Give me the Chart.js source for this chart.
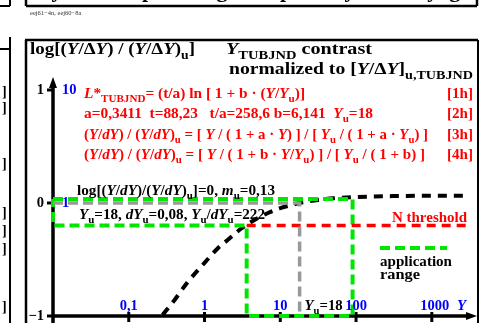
<!DOCTYPE html>
<html>
<head>
<meta charset="utf-8">
<script src="https://cdn.jsdelivr.net/npm/chart.js@4.4.0/dist/chart.umd.min.js"></script>
<style>
  html, body { margin: 0; padding: 0; background: #fff; }
  canvas { display: block; }
</style>
</head>
<body>
<canvas id="myChart" width="481" height="323"></canvas>
<script>
// values (x = Y, y = log of the ratio)
var xTicks = [0.1, 1, 10, 100, 1000];
var xTickLabels = ['0,1', '1', '10', '100', '1000'];
var yTicks = [1, 0, -1];
var yTickLabels = ['1', '0', '\u22121'];
var yRatioLabels = ['10', '1', ''];

var curveY = [0.28, 0.4, 0.6, 1, 1.5, 2, 3, 5, 7, 10, 18, 30, 50, 100, 300, 1000, 3100];
var curveV = [-0.99, -0.86, -0.70, -0.53, -0.40, -0.33, -0.23, -0.135, -0.086, -0.046, 0, 0.025, 0.041, 0.053, 0.061, 0.064, 0.065];

var thresholdY = [3.6, 2900];
var thresholdV = [-0.2, -0.2];

var grayY = [0.01, 18, 18];
var grayV = [0, 0, -1];

var rangeY = [0.01, 90, 90, 3.6, 3.6, 0.01, 0.01];
var rangeV = [0.035, 0.035, -1, -1, -0.2, -0.2, 0.035];

var Yu = 18;

function pts(xs, ys) {
  return xs.map(function (x, i) { return {x: x, y: ys[i]}; });
}

var SERIF = '"Liberation Serif", "DejaVu Serif", serif';

// draw a row of text pieces: [text, flags] with i = italic, s = subscript
function runs(ctx, x, y, parts, size, color, targetW) {
  var total = 0;
  parts.forEach(function (p) {
    var sz = p[1].indexOf('s') >= 0 ? size * 0.72 : size;
    ctx.font = (p[1].indexOf('i') >= 0 ? 'italic ' : '') + 'bold ' + sz + 'px ' + SERIF;
    total += ctx.measureText(p[0]).width;
  });
  var k = targetW ? targetW / total : 1;
  ctx.save();
  ctx.translate(x, y);
  ctx.scale(k, 1);
  ctx.fillStyle = color;
  ctx.textBaseline = 'alphabetic';
  ctx.textAlign = 'left';
  var cx = 0;
  parts.forEach(function (p) {
    var sub = p[1].indexOf('s') >= 0;
    var sz = sub ? size * 0.72 : size;
    ctx.font = (p[1].indexOf('i') >= 0 ? 'italic ' : '') + 'bold ' + sz + 'px ' + SERIF;
    ctx.fillText(p[0], cx, sub ? size * 0.28 : 0);
    cx += ctx.measureText(p[0]).width;
  });
  ctx.restore();
}

function line(ctx, x1, y1, x2, y2, w, col) {
  ctx.beginPath();
  ctx.moveTo(x1, y1);
  ctx.lineTo(x2, y2);
  ctx.lineWidth = w;
  ctx.strokeStyle = col;
  ctx.stroke();
}

var frame = {
  id: 'frame',
  beforeDatasetsDraw: function (chart) {
    var ctx = chart.ctx, xs = chart.scales.x, ys = chart.scales.y;
    var a = chart.chartArea;
    var x0 = xs.getPixelForValue(0.01), yb = ys.getPixelForValue(-1);
    ctx.save();
    ctx.setLineDash([]);
    // axes
    line(ctx, x0, 323, x0, a.top + 8, 3.5, '#000');
    ctx.beginPath();
    ctx.moveTo(x0, a.top); ctx.lineTo(x0 - 4, a.top + 11); ctx.lineTo(x0 + 4, a.top + 11);
    ctx.closePath(); ctx.fillStyle = '#000'; ctx.fill();
    line(ctx, x0, yb, a.right - 8, yb, 3.5, '#000');
    ctx.beginPath();
    ctx.moveTo(a.right, yb); ctx.lineTo(a.right - 11, yb - 4); ctx.lineTo(a.right - 11, yb + 4);
    ctx.closePath(); ctx.fill();
    xTicks.forEach(function (t) {
      var px = xs.getPixelForValue(t);
      line(ctx, px, yb - 4, px, yb + 6, 3, '#000');
    });
    yTicks.forEach(function (t) {
      var py = ys.getPixelForValue(t);
      line(ctx, x0 - 6, py, x0, py, 3, '#000');
    });
    ctx.restore();
  },
  afterDraw: function (chart) {
    var ctx = chart.ctx, xs = chart.scales.x, ys = chart.scales.y;
    var x0 = xs.getPixelForValue(0.01);
    ctx.save();
    ctx.setLineDash([]);

    // frames
    line(ctx, 26, 0, 26, 6, 2.5, '#000');
    line(ctx, 26, 6, 477, 6, 2.5, '#000');
    line(ctx, 477, 0, 477, 6, 2.5, '#000');
    line(ctx, 0, 6, 10, 6, 2, '#000');
    line(ctx, 10, 0, 10, 6, 2, '#000');
    line(ctx, 10, 37, 10, 323, 2, '#000');
    line(ctx, 0, 49, 10, 49, 2, '#000');
    line(ctx, 26, 40, 26, 323, 2.5, '#000');
    line(ctx, 25, 40, 478, 40, 2.5, '#000');
    line(ctx, 478, 40, 478, 323, 2, '#000');

    // cut-off heading above
    ctx.fillStyle = '#000';
    ctx.font = 'bold 22px ' + SERIF;
    ctx.textAlign = 'center';
    [['y', 57], ['p', 148], ['g', 222], ['p', 286], ['y', 350]].forEach(function (c) {
      ctx.fillText(c[0], c[1], -3);
    });
    ctx.textAlign = 'right';
    ctx.fillText('yage', 470, -3);
    ctx.textAlign = 'left';
    ctx.font = '6.5px ' + SERIF;
    ctx.fillStyle = '#333';
    ctx.fillText('eej61\u22124n, eej60\u22128a', 30, 15);

    // left neighbour panel
    ctx.fillStyle = '#000';
    ctx.font = 'bold 14px ' + SERIF;
    [96, 112, 168, 217, 235, 253, 311].forEach(function (y) { ctx.fillText(']', 2, y); });

    // titles
    runs(ctx, 30, 54, [['log[(', ''], ['Y', 'i'], ['/\u0394', ''], ['Y', 'i'], [') / (', ''], ['Y', 'i'], ['/\u0394', ''], ['Y', 'i'], [')', ''], ['u', 's'], [']', '']], 17.5, '#000', 165);
    runs(ctx, 226, 54, [['Y', 'i'], ['TUBJND', 's'], [' contrast', '']], 17.5, '#000', 146);
    runs(ctx, 229, 74, [['normalized to [', ''], ['Y', 'i'], ['/\u0394', ''], ['Y', 'i'], [']', ''], ['u,TUBJND', 's']], 17.5, '#000', 244);

    // red formulas
    var red = '#f00';
    var fs = 14.5;
    runs(ctx, 84, 98, [['L', 'i'], ['*', ''], ['TUBJND', 's'], ['= (t/a) ln [ 1 + b \u00b7 (', ''], ['Y', 'i'], ['/', ''], ['Y', 'i'], ['u', 's'], [')]', '']], fs, red, 221);
    runs(ctx, 84, 118, [['a=0,3411  t=88,23   t/a=258,6 b=6,141  ', ''], ['Y', 'i'], ['u', 's'], ['=18', '']], fs, red, 289);
    runs(ctx, 84, 139, [['(', ''], ['Y', 'i'], ['/', ''], ['dY', 'i'], [') / (', ''], ['Y', 'i'], ['/', ''], ['dY', 'i'], [')', ''], ['u', 's'],
      [' = [ ', ''], ['Y', 'i'], [' / ( 1 + a \u00b7 ', ''], ['Y', 'i'], [') ] / [ ', ''], ['Y', 'i'], ['u', 's'], [' / ( 1 + a \u00b7 ', ''], ['Y', 'i'], ['u', 's'], [') ]', '']], fs, red, 344);
    runs(ctx, 84, 159, [['(', ''], ['Y', 'i'], ['/', ''], ['dY', 'i'], [') / (', ''], ['Y', 'i'], ['/', ''], ['dY', 'i'], [')', ''], ['u', 's'],
      [' = [ ', ''], ['Y', 'i'], [' / ( 1 + b \u00b7 ', ''], ['Y', 'i'], ['/', ''], ['Y', 'i'], ['u', 's'], [') ] / [ ', ''], ['Y', 'i'], ['u', 's'], [' / ( 1 + b) ]', '']], fs, red, 341);
    ['[1h]', '[2h]', '[3h]', '[4h]'].forEach(function (s, i) {
      runs(ctx, 447, [98, 118, 139, 159][i], [[s, '']], fs, red, 26);
    });

    // black notes
    runs(ctx, 77, 195, [['log[(', ''], ['Y', 'i'], ['/', ''], ['dY', 'i'], [')/(', ''], ['Y', 'i'], ['/', ''], ['dY', 'i'], [')', ''], ['u', 's'], [']=0, ', ''], ['m', 'i'], ['u', 's'], ['=0,13', '']], fs, '#000', 198);
    runs(ctx, 79, 219, [['Y', 'i'], ['u', 's'], ['=18, ', ''], ['dY', 'i'], ['u', 's'], ['=0,08, ', ''], ['Y', 'i'], ['u', 's'], ['/', ''], ['dY', 'i'], ['u', 's'], ['=222', '']], fs, '#000', 186);

    runs(ctx, 392, 222, [['N threshold', '']], 15, red, 75);

    // application range legend
    ctx.setLineDash([10, 5]);
    line(ctx, 380, 248, 447, 248, 4, '#00e600');
    ctx.setLineDash([]);
    runs(ctx, 380, 266, [['application', '']], fs, '#000', 72);
    runs(ctx, 380, 279, [['range', '']], fs, '#000', 40);

    // tick labels
    var yb = ys.getPixelForValue(-1);
    ctx.font = 'bold 14.5px ' + SERIF;
    ctx.textAlign = 'center';
    ctx.fillStyle = '#0000ff';
    xTicks.forEach(function (t, i) {
      ctx.fillText(xTickLabels[i], xs.getPixelForValue(t) + (i === 4 ? 3 : 0), yb - 6);
    });
    ctx.textAlign = 'left';
    ctx.font = 'italic bold 15px ' + SERIF;
    ctx.fillText('Y', 457, yb - 6);
    runs(ctx, xs.getPixelForValue(Yu) + 5, yb - 6, [['Y', 'i'], ['u', 's'], ['=18', '']], fs, '#000', 38);

    ctx.textBaseline = 'middle';
    yTicks.forEach(function (t, i) {
      var py = ys.getPixelForValue(t);
      ctx.font = 'bold 14.5px ' + SERIF;
      ctx.textAlign = 'right';
      ctx.fillStyle = '#000';
      ctx.fillText(yTickLabels[i], x0 - 9, py);
      ctx.textAlign = 'left';
      ctx.fillStyle = '#0000ff';
      ctx.fillText(yRatioLabels[i], x0 + 9, py);
    });
    ctx.restore();
  }
};

var ctx = document.getElementById('myChart').getContext('2d');
var chart = new Chart(ctx, {
  type: 'scatter',
  data: {
    datasets: [{
      label: 'gray',
      data: pts(grayY, grayV),
      showLine: true,
      borderColor: '#999999',
      borderWidth: 3.5,
      borderDash: [10, 5],
      pointRadius: 0,
      clip: false
    }, {
      label: 'N threshold',
      data: pts(thresholdY, thresholdV),
      showLine: true,
      borderColor: '#ff0000',
      borderWidth: 3.5,
      borderDash: [9, 6],
      pointRadius: 0,
      clip: false
    }, {
      label: 'application range',
      data: pts(rangeY, rangeV),
      showLine: true,
      borderColor: '#00e600',
      borderWidth: 4,
      borderDash: [10, 5],
      pointRadius: 0,
      clip: false
    }, {
      label: 'curve',
      data: pts(curveY, curveV),
      showLine: true,
      borderColor: '#000000',
      borderWidth: 4,
      borderDash: [9, 7],
      cubicInterpolationMode: 'monotone',
      pointRadius: 0,
      clip: false
    }]
  },
  options: {
    responsive: false,
    animation: false,
    layout: { padding: { left: 53, right: 4, top: 77, bottom: 7 } },
    plugins: { legend: { display: false }, tooltip: { enabled: false } },
    scales: {
      x: { type: 'logarithmic', min: 0.01, max: 3950, display: false },
      y: { type: 'linear', min: -1, max: 1.115, display: false }
    }
  },
  plugins: [frame]
});
</script>
</body>
</html>
